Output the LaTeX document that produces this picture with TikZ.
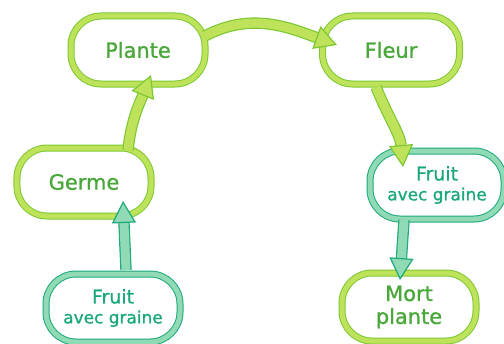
\documentclass[tikz,border=0pt]{standalone}
\usepackage{fontspec}
\newfontfamily\cyclefont[FakeBold=1]{DejaVu Sans}
\usetikzlibrary{arrows.meta}
\definecolor{leafgreen}{HTML}{BEE35A}
\definecolor{stemgreen}{HTML}{7CC832}
\definecolor{textgreen}{HTML}{4AA83A}
\definecolor{seedteal}{HTML}{90DBB5}
\definecolor{darkteal}{HTML}{1EA97A}
\definecolor{textteal}{HTML}{1AA878}
\newcommand{\seedline}{\fontsize{17}{20}\selectfont}

\begin{document}
\begin{tikzpicture}[x=1bp,y=1bp]
\useasboundingbox (0,0) rectangle (504,343);
\tikzset{Stage/.style ={draw=stemgreen, double=leafgreen, double distance=5bp, line width=1bp,
  rounded corners=30bp, fill=white, minimum width=134bp, minimum height=68bp, inner sep=0,
  align=center, text=textgreen, font=\cyclefont\fontsize{21}{23}\selectfont}}
\tikzset{SeedStage/.style ={Stage, draw=darkteal, double=seedteal, text=textteal,
  font=\cyclefont\fontsize{19}{20}\selectfont}}
\tikzset{Flow/.style ={draw=stemgreen, double=leafgreen, double distance=9bp, line width=1.2bp,
  -{Triangle[width=24bp,length=22bp,fill=leafgreen,line width'=1.2bp]}}}
\tikzset{SeedFlow/.style ={Flow, draw=darkteal, double=seedteal,
  -{Triangle[width=24bp,length=22bp,fill=seedteal,line width'=1.2bp]}}}
\node[Stage] (plante) at (138,293) {Plante};
\node[Stage, minimum width=137bp] (fleur) at (391,293) {Fleur};
\node[Stage] (germe) at (84,161) {Germe};
\node[SeedStage] (fruitR) at (437,158) {Fruit\\{\seedline avec graine}};
\node[SeedStage] (fruitL) at (113,35) {Fruit\\{\seedline avec graine}};
\node[Stage] (mort) at (409,36) {Mort\\plante};
% cycle
\draw[Flow] ([shift={(44,32)}]germe.center) to[out=84,in=-112] ([shift={(13,-25)}]plante.center);
\draw[Flow] ([shift={(67,14)}]plante.center) to[out=28,in=160] ([shift={(-54,5)}]fleur.center);
\draw[Flow] ([shift={(-15,-37)}]fleur.center) to[out=-68,in=95] ([shift={(-34,18)}]fruitR.center);
\draw[SeedFlow] ([shift={(-33,-35)}]fruitR.center) -- ([shift={(-9,27)}]mort.center);
\draw[SeedFlow] ([shift={(13,38)}]fruitL.center) -- ([shift={(39,-19)}]germe.center);
\end{tikzpicture}
\end{document}
